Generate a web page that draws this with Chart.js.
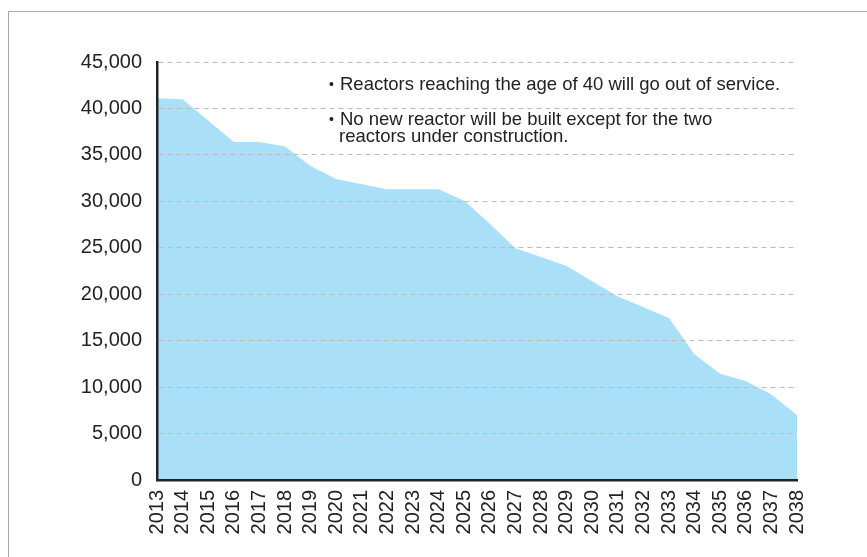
<!DOCTYPE html>
<html>
<head>
<meta charset="utf-8">
<script src="https://cdn.jsdelivr.net/npm/chart.js@4.4.1/dist/chart.umd.min.js"></script>
<style>
  html, body { margin: 0; padding: 0; background: #fff; }
  #wrap { position: relative; width: 867px; height: 557px; overflow: hidden; }
  #frame {
    position: absolute; left: 8px; top: 11px; width: 900px; height: 600px;
    border-top: 1px solid #aaa; border-left: 1px solid #aaa;
  }
  canvas { position: absolute; left: 0; top: 0; }
</style>
</head>
<body>
<div id="wrap">
  <div id="frame"></div>
  <canvas id="chart" width="867" height="557"></canvas>
</div>
<script>
const years = [
  '2013', '2014', '2015', '2016', '2017', '2018', '2019', '2020', '2021',
  '2022', '2023', '2024', '2025', '2026', '2027', '2028', '2029', '2030',
  '2031', '2032', '2033', '2034', '2035', '2036', '2037', '2038',
];
const capacity = [
  41100, 41000, 38700, 36400, 36400, 35900, 33800, 32400, 31850,
  31300, 31300, 31300, 30050, 27600, 24950, 24000, 23050, 21400,
  19750, 18600, 17450, 13500, 11450, 10650, 9200, 7000,
];
const notes = [
  ['Reactors reaching the age of 40 will go out of service.'],
  ['No new reactor will be built except for the two', 'reactors under construction.'],
];

const FONT = '"Liberation Sans", Arial, Helvetica, sans-serif';

// the two bullet notes in the upper right of the plot
const notesPlugin = {
  id: 'notes',
  afterDraw(chart) {
    const ctx = chart.ctx;
    ctx.save();
    ctx.fillStyle = '#222';
    ctx.textBaseline = 'alphabetic';
    const baselines = [90, 125];
    notes.forEach((lines, i) => {
      ctx.font = '14px ' + FONT;
      ctx.fillText('\u2022', 329, baselines[i] - 1);
      ctx.font = '18.5px ' + FONT;
      lines.forEach((txt, j) => {
        ctx.fillText(txt, j === 0 ? 340 : 339, baselines[i] + j * 16.7);
      });
    });
    ctx.restore();
  },
};

new Chart(document.getElementById('chart').getContext('2d'), {
  type: 'line',
  data: {
    labels: years,
    datasets: [
      {
        data: capacity,
        fill: 'origin',
        backgroundColor: 'rgb(170, 223, 248)',
        borderWidth: 0,
        pointRadius: 0,
        tension: 0,
      },
    ],
  },
  options: {
    responsive: false,
    animation: false,
    layout: { padding: { left: 0, top: 62, right: 70, bottom: 0 } },
    plugins: { legend: { display: false }, tooltip: { enabled: false } },
    scales: {
      x: {
        grid: { display: false, drawTicks: false },
        border: { display: true, color: '#222', width: 2.5, z: 2 },
        ticks: {
          color: '#222',
          font: { family: FONT, size: 20 },
          minRotation: 90,
          maxRotation: 90,
          autoSkip: false,
          padding: 10,
        },
        afterFit(scale) { scale.height = 77; },
      },
      y: {
        min: 0,
        max: 45000,
        grid: { color: '#bbb', lineWidth: 1, drawTicks: false, z: 1 },
        border: { display: true, color: '#222', width: 2.5, dash: [5, 4], z: 2 },
        ticks: {
          stepSize: 5000,
          color: '#222',
          font: { family: FONT, size: 20 },
          padding: 15,
          callback: (v) => v.toLocaleString('en-US'),
        },
        afterFit(scale) { scale.width = 157; },
      },
    },
  },
  plugins: [notesPlugin],
});
</script>
</body>
</html>
